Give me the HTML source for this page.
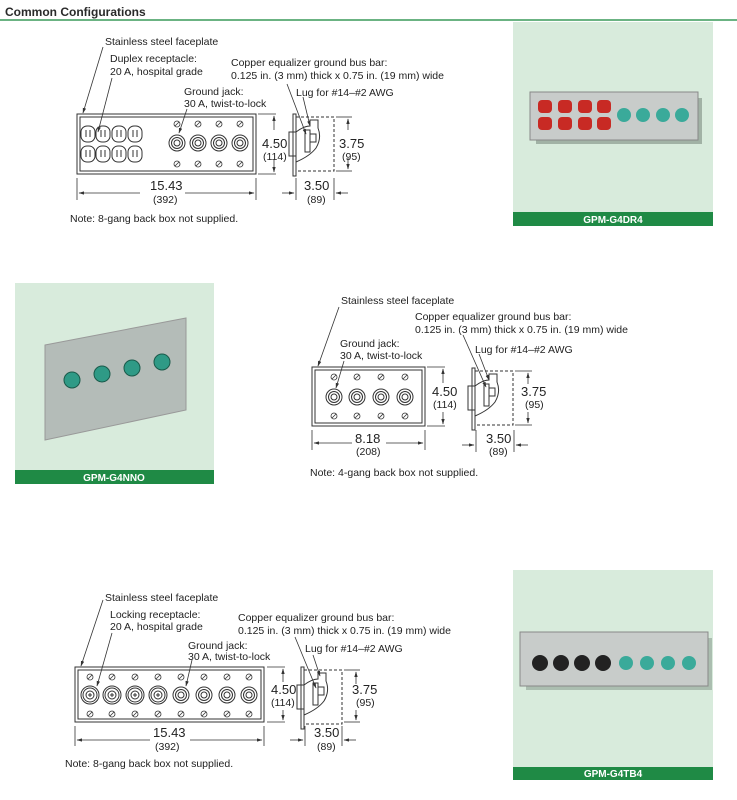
<!DOCTYPE html>
<html><head><meta charset="utf-8"><style>
body{margin:0;background:#fff;width:737px;height:800px;overflow:hidden}
svg{display:block}
text{font-family:"Liberation Sans",sans-serif;fill:#222}
.l{font-size:10.5px}.d{font-size:13px}.s{font-size:10.5px}
</style></head><body>
<svg width="737" height="800" viewBox="0 0 737 800">
<defs>
<marker id="a" viewBox="0 0 10 10" refX="9" refY="5" markerWidth="7" markerHeight="7" orient="auto-start-reverse"><path d="M0,2 L10,5 L0,8z" fill="#333"/></marker>
<g id="scr"><circle r="3" fill="none" stroke="#333" stroke-width="0.8"/><line x1="-2" y1="2" x2="2" y2="-2" stroke="#333" stroke-width="0.8"/></g>
<g id="jk"><circle r="8" fill="none" stroke="#333"/><circle r="5.5" fill="none" stroke="#333"/><circle r="3" fill="none" stroke="#333"/></g>
<g id="dup"><rect x="-7" y="-8" width="14" height="16" rx="6" fill="none" stroke="#333"/><line x1="-2" y1="-4" x2="-2" y2="3" stroke="#333"/><line x1="2" y1="-4" x2="2" y2="3" stroke="#333"/></g>
<g id="lk"><circle r="9" fill="none" stroke="#333"/><circle r="7" fill="none" stroke="#333"/><circle r="4" fill="none" stroke="#333"/><path d="M-2,0h4M0,-2v4" stroke="#333"/></g>
<g id="side"><rect x="0" y="0" width="3" height="62" fill="#fff" stroke="#333"/><rect x="3" y="3" width="38" height="54" fill="none" stroke="#333" stroke-dasharray="3,2"/><rect x="-4" y="18" width="7" height="24" fill="none" stroke="#333"/><path d="M3,18 q8,-6 14,-6 v-6 h8 v8 q4,10 -2,20 q-6,8 -20,14" fill="none" stroke="#333"/><rect x="12" y="16" width="5" height="22" fill="none" stroke="#333"/><rect x="17" y="20" width="6" height="8" fill="none" stroke="#333"/></g>
</defs>
<text x="5" y="16" style="font-size:12px;font-weight:bold;fill:#2a2a2a">Common Configurations</text>
<line x1="0" y1="20" x2="737" y2="20" stroke="#3a9a5a" stroke-width="1.5"/>

<!-- Section 1 diagram -->
<g stroke="#333" fill="none">
<rect x="77" y="114" width="179" height="60"/><rect x="80" y="117" width="173" height="54"/>
</g>
<use href="#dup" x="88" y="134"/><use href="#dup" x="103" y="134"/><use href="#dup" x="119" y="134"/><use href="#dup" x="135" y="134"/>
<use href="#dup" x="88" y="154"/><use href="#dup" x="103" y="154"/><use href="#dup" x="119" y="154"/><use href="#dup" x="135" y="154"/>
<use href="#jk" x="177" y="143"/><use href="#jk" x="198" y="143"/><use href="#jk" x="219" y="143"/><use href="#jk" x="240" y="143"/>
<use href="#scr" x="177" y="124"/><use href="#scr" x="198" y="124"/><use href="#scr" x="219" y="124"/><use href="#scr" x="240" y="124"/>
<use href="#scr" x="177" y="164"/><use href="#scr" x="198" y="164"/><use href="#scr" x="219" y="164"/><use href="#scr" x="240" y="164"/>
<g stroke="#333" fill="none" stroke-width="0.8">
<line x1="103" y1="47" x2="83" y2="113" marker-end="url(#a)"/>
<line x1="112" y1="78" x2="98" y2="132" marker-end="url(#a)"/>
<line x1="187" y1="109" x2="179" y2="133" marker-end="url(#a)"/>
<line x1="287" y1="84" x2="306" y2="134" marker-end="url(#a)"/>
<line x1="303" y1="97" x2="310" y2="126" marker-end="url(#a)"/>
<line x1="258" y1="114" x2="276" y2="114"/><line x1="258" y1="174" x2="276" y2="174"/>
<line x1="274" y1="130" x2="274" y2="116" marker-end="url(#a)"/><line x1="274" y1="160" x2="274" y2="172" marker-end="url(#a)"/>
<line x1="77" y1="178" x2="77" y2="200"/><line x1="256" y1="178" x2="256" y2="200"/>
<line x1="140" y1="193" x2="79" y2="193" marker-end="url(#a)"/><line x1="185" y1="193" x2="254" y2="193" marker-end="url(#a)"/>
<line x1="336" y1="117" x2="352" y2="117"/><line x1="336" y1="171" x2="352" y2="171"/>
<line x1="348" y1="130" x2="348" y2="119" marker-end="url(#a)"/><line x1="348" y1="158" x2="348" y2="169" marker-end="url(#a)"/>
<line x1="296" y1="178" x2="296" y2="200"/><line x1="334" y1="178" x2="334" y2="200"/>
<line x1="282" y1="193" x2="294" y2="193" marker-end="url(#a)"/><line x1="348" y1="193" x2="336" y2="193" marker-end="url(#a)"/>
</g>
<use href="#side" x="293" y="114"/>
<text class="l" x="105" y="45">Stainless steel faceplate</text>
<text class="l" x="110" y="62">Duplex receptacle:</text><text class="l" x="110" y="75">20 A, hospital grade</text>
<text class="l" x="184" y="95">Ground jack:</text><text class="l" x="184" y="107">30 A, twist-to-lock</text>
<text class="l" x="231" y="66">Copper equalizer ground bus bar:</text><text class="l" x="231" y="79">0.125 in. (3 mm) thick x 0.75 in. (19 mm) wide</text>
<text class="l" x="296" y="96">Lug for #14–#2 AWG</text>
<text class="d" x="262" y="148">4.50</text><text class="s" x="263" y="160">(114)</text>
<text class="d" x="339" y="148">3.75</text><text class="s" x="342" y="160">(95)</text>
<text class="d" x="150" y="190">15.43</text><text class="s" x="153" y="203">(392)</text>
<text class="d" x="304" y="190">3.50</text><text class="s" x="307" y="203">(89)</text>
<text class="l" x="70" y="222">Note: 8-gang back box not supplied.</text>

<!-- Photo 1 -->
<rect x="513" y="22" width="200" height="204" fill="#d8ebdc"/>
<rect x="513" y="212" width="200" height="14" fill="#1f8a45"/>
<text x="613" y="223" text-anchor="middle" style="font-size:10px;font-weight:bold;fill:#fff">GPM-G4DR4</text>
<rect x="536" y="98" width="166" height="46" fill="#6a7a6e" opacity="0.5"/>
<rect x="530" y="92" width="168" height="48" fill="#c8ccca" stroke="#888"/>
<g fill="#c82a24"><rect x="538" y="100" width="14" height="13" rx="4"/><rect x="558" y="100" width="14" height="13" rx="4"/><rect x="578" y="100" width="14" height="13" rx="4"/><rect x="597" y="100" width="14" height="13" rx="4"/>
<rect x="538" y="117" width="14" height="13" rx="4"/><rect x="558" y="117" width="14" height="13" rx="4"/><rect x="578" y="117" width="14" height="13" rx="4"/><rect x="597" y="117" width="14" height="13" rx="4"/></g>
<g fill="#3aaa9a"><circle cx="624" cy="115" r="7"/><circle cx="643" cy="115" r="7"/><circle cx="663" cy="115" r="7"/><circle cx="682" cy="115" r="7"/></g>

<!-- Photo 2 -->
<rect x="15" y="283" width="199" height="201" fill="#d8ebdc"/>
<rect x="15" y="470" width="199" height="14" fill="#1f8a45"/>
<text x="114" y="481" text-anchor="middle" style="font-size:10px;font-weight:bold;fill:#fff">GPM-G4NNO</text>
<polygon points="45,345 186,318 186,410 45,440" fill="#b4bcb8" stroke="#999"/>
<g fill="#2f9a86" stroke="#1a5a4a"><circle cx="72" cy="380" r="8"/><circle cx="102" cy="374" r="8"/><circle cx="132" cy="368" r="8"/><circle cx="162" cy="362" r="8"/></g>

<!-- Section 2 diagram -->
<g stroke="#333" fill="none">
<rect x="312" y="367" width="113" height="59"/><rect x="315" y="370" width="107" height="53"/>
</g>
<use href="#jk" x="334" y="397"/><use href="#jk" x="357" y="397"/><use href="#jk" x="381" y="397"/><use href="#jk" x="405" y="397"/>
<use href="#scr" x="334" y="377"/><use href="#scr" x="357" y="377"/><use href="#scr" x="381" y="377"/><use href="#scr" x="405" y="377"/>
<use href="#scr" x="334" y="416"/><use href="#scr" x="357" y="416"/><use href="#scr" x="381" y="416"/><use href="#scr" x="405" y="416"/>
<use href="#side" x="472" y="368"/>
<g stroke="#333" fill="none" stroke-width="0.8">
<line x1="339" y1="307" x2="318" y2="366" marker-end="url(#a)"/>
<line x1="344" y1="361" x2="336" y2="388" marker-end="url(#a)"/>
<line x1="463" y1="335" x2="486" y2="387" marker-end="url(#a)"/>
<line x1="479" y1="354" x2="489" y2="380" marker-end="url(#a)"/>
<line x1="427" y1="367" x2="445" y2="367"/><line x1="427" y1="426" x2="445" y2="426"/>
<line x1="443" y1="383" x2="443" y2="369" marker-end="url(#a)"/><line x1="443" y1="412" x2="443" y2="424" marker-end="url(#a)"/>
<line x1="312" y1="430" x2="312" y2="450"/><line x1="425" y1="430" x2="425" y2="450"/>
<line x1="352" y1="443" x2="314" y2="443" marker-end="url(#a)"/><line x1="386" y1="443" x2="423" y2="443" marker-end="url(#a)"/>
<line x1="515" y1="371" x2="532" y2="371"/><line x1="515" y1="425" x2="532" y2="425"/>
<line x1="528" y1="384" x2="528" y2="373" marker-end="url(#a)"/><line x1="528" y1="412" x2="528" y2="423" marker-end="url(#a)"/>
<line x1="476" y1="430" x2="476" y2="452"/><line x1="514" y1="430" x2="514" y2="452"/>
<line x1="462" y1="445" x2="474" y2="445" marker-end="url(#a)"/><line x1="528" y1="445" x2="516" y2="445" marker-end="url(#a)"/>
</g>
<text class="l" x="341" y="304">Stainless steel faceplate</text>
<text class="l" x="415" y="320">Copper equalizer ground bus bar:</text><text class="l" x="415" y="333">0.125 in. (3 mm) thick x 0.75 in. (19 mm) wide</text>
<text class="l" x="340" y="347">Ground jack:</text><text class="l" x="340" y="359">30 A, twist-to-lock</text>
<text class="l" x="475" y="353">Lug for #14–#2 AWG</text>
<text class="d" x="432" y="396">4.50</text><text class="s" x="433" y="408">(114)</text>
<text class="d" x="521" y="396">3.75</text><text class="s" x="525" y="408">(95)</text>
<text class="d" x="355" y="443">8.18</text><text class="s" x="356" y="455">(208)</text>
<text class="d" x="486" y="443">3.50</text><text class="s" x="489" y="455">(89)</text>
<text class="l" x="310" y="476">Note: 4-gang back box not supplied.</text>

<!-- Section 3 diagram -->
<g stroke="#333" fill="none">
<rect x="75" y="667" width="189" height="55"/><rect x="78" y="670" width="183" height="49"/>
</g>
<use href="#lk" x="90" y="695"/><use href="#lk" x="112" y="695"/><use href="#lk" x="135" y="695"/><use href="#lk" x="158" y="695"/>
<use href="#jk" x="181" y="695"/><use href="#jk" x="204" y="695"/><use href="#jk" x="227" y="695"/><use href="#jk" x="249" y="695"/>
<g>
<use href="#scr" x="90" y="677"/><use href="#scr" x="112" y="677"/><use href="#scr" x="135" y="677"/><use href="#scr" x="158" y="677"/><use href="#scr" x="181" y="677"/><use href="#scr" x="204" y="677"/><use href="#scr" x="227" y="677"/><use href="#scr" x="249" y="677"/>
<use href="#scr" x="90" y="714"/><use href="#scr" x="112" y="714"/><use href="#scr" x="135" y="714"/><use href="#scr" x="158" y="714"/><use href="#scr" x="181" y="714"/><use href="#scr" x="204" y="714"/><use href="#scr" x="227" y="714"/><use href="#scr" x="249" y="714"/>
</g>
<use href="#side" x="301" y="667"/>
<g stroke="#333" fill="none" stroke-width="0.8">
<line x1="103" y1="600" x2="81" y2="666" marker-end="url(#a)"/>
<line x1="112" y1="633" x2="97" y2="686" marker-end="url(#a)"/>
<line x1="192" y1="660" x2="186" y2="686" marker-end="url(#a)"/>
<line x1="295" y1="637" x2="316" y2="688" marker-end="url(#a)"/>
<line x1="313" y1="655" x2="320" y2="676" marker-end="url(#a)"/>
<line x1="267" y1="667" x2="285" y2="667"/><line x1="267" y1="722" x2="285" y2="722"/>
<line x1="283" y1="682" x2="283" y2="669" marker-end="url(#a)"/><line x1="283" y1="710" x2="283" y2="720" marker-end="url(#a)"/>
<line x1="75" y1="726" x2="75" y2="746"/><line x1="264" y1="726" x2="264" y2="746"/>
<line x1="150" y1="740" x2="77" y2="740" marker-end="url(#a)"/><line x1="190" y1="740" x2="262" y2="740" marker-end="url(#a)"/>
<line x1="344" y1="670" x2="360" y2="670"/><line x1="344" y1="722" x2="360" y2="722"/>
<line x1="356" y1="684" x2="356" y2="672" marker-end="url(#a)"/><line x1="356" y1="710" x2="356" y2="720" marker-end="url(#a)"/>
<line x1="305" y1="726" x2="305" y2="746"/><line x1="342" y1="726" x2="342" y2="746"/>
<line x1="290" y1="740" x2="303" y2="740" marker-end="url(#a)"/><line x1="356" y1="740" x2="344" y2="740" marker-end="url(#a)"/>
</g>
<text class="l" x="105" y="601">Stainless steel faceplate</text>
<text class="l" x="110" y="618">Locking receptacle:</text><text class="l" x="110" y="630">20 A, hospital grade</text>
<text class="l" x="188" y="649">Ground jack:</text><text class="l" x="188" y="660">30 A, twist-to-lock</text>
<text class="l" x="238" y="621">Copper equalizer ground bus bar:</text><text class="l" x="238" y="634">0.125 in. (3 mm) thick x 0.75 in. (19 mm) wide</text>
<text class="l" x="305" y="652">Lug for #14–#2 AWG</text>
<text class="d" x="271" y="694">4.50</text><text class="s" x="271" y="706">(114)</text>
<text class="d" x="352" y="694">3.75</text><text class="s" x="356" y="706">(95)</text>
<text class="d" x="153" y="737">15.43</text><text class="s" x="155" y="750">(392)</text>
<text class="d" x="314" y="737">3.50</text><text class="s" x="317" y="750">(89)</text>
<text class="l" x="65" y="767">Note: 8-gang back box not supplied.</text>

<!-- Photo 3 -->
<rect x="513" y="570" width="200" height="210" fill="#d8ebdc"/>
<rect x="513" y="767" width="200" height="13" fill="#1f8a45"/>
<text x="613" y="777" text-anchor="middle" style="font-size:10px;font-weight:bold;fill:#fff">GPM-G4TB4</text>
<rect x="526" y="638" width="186" height="52" fill="#6a7a6e" opacity="0.4"/>
<rect x="520" y="632" width="188" height="54" fill="#c8ccca" stroke="#888"/>
<g fill="#222"><circle cx="540" cy="663" r="8"/><circle cx="561" cy="663" r="8"/><circle cx="582" cy="663" r="8"/><circle cx="603" cy="663" r="8"/></g>
<g fill="#3aaa9a"><circle cx="626" cy="663" r="7"/><circle cx="647" cy="663" r="7"/><circle cx="668" cy="663" r="7"/><circle cx="689" cy="663" r="7"/></g>
</svg>
</body></html>
